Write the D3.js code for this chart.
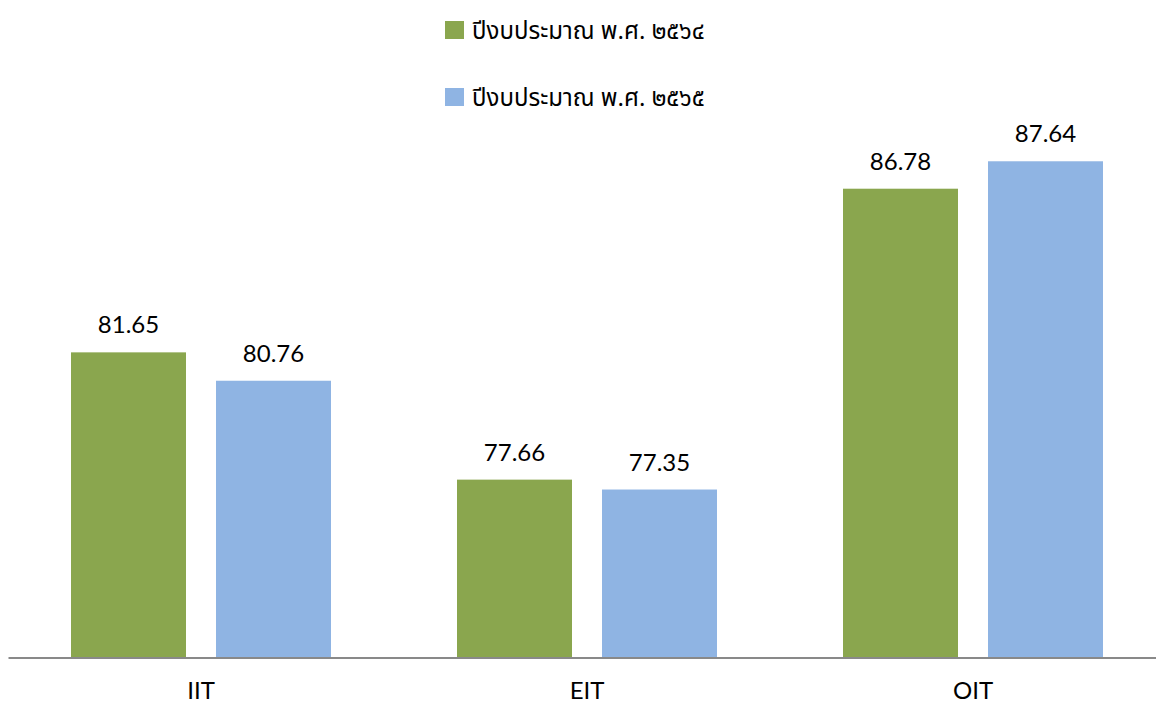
<!DOCTYPE html>
<html>
<head>
<meta charset="utf-8">
<script src="https://cdn.jsdelivr.net/npm/d3@7"></script>
<style>
  body { margin: 0; background: #fff; }
  text { font-family: Lato, "Open Sans", sans-serif; fill: #000; }
  .legend text { font-family: "Noto Sans Thai", "Noto Sans", "DejaVu Sans", sans-serif; }
</style>
</head>
<body>
<div id="chart"></div>
<script>
// budget scores by institute, two fiscal years
var categories = ["IIT", "EIT", "OIT"];
var seriesNames = ["ปีงบประมาณ พ.ศ. ๒๕๖๔", "ปีงบประมาณ พ.ศ. ๒๕๖๕"];
var values2564 = [81.65, 77.66, 86.78];
var values2565 = [80.76, 77.35, 87.64];
var colors = ["#8aa64e", "#8fb4e3"];

var width = 1156, height = 705;
var baseY = 657;

var svg = d3.select("#chart").append("svg")
    .attr("width", width)
    .attr("height", height);

var x = d3.scaleBand()
    .domain(categories)
    .range([8, 1166]);

// two bars per group, 115px wide with a 30px gap
var xSub = d3.scaleBand()
    .domain([0, 1])
    .range([63, 323])
    .paddingInner(30 / 145)
    .paddingOuter(0);

var y = d3.scaleLinear()
    .domain([72.1, 90])
    .range([baseY, baseY - 17.9 * 31.9]);

var data = [];
categories.forEach(function(c, i) {
    data.push({cat: c, s: 0, v: values2564[i]});
    data.push({cat: c, s: 1, v: values2565[i]});
});

svg.selectAll("rect.bar")
    .data(data)
    .enter()
    .append("rect")
    .attr("class", "bar")
    .attr("x", function(d) { return x(d.cat) + xSub(d.s); })
    .attr("width", xSub.bandwidth())
    .attr("y", function(d) { return y(d.v); })
    .attr("height", function(d) { return baseY - y(d.v); })
    .attr("fill", function(d) { return colors[d.s]; });

svg.selectAll("text.val")
    .data(data)
    .enter()
    .append("text")
    .attr("class", "val")
    .attr("x", function(d) { return x(d.cat) + xSub(d.s) + xSub.bandwidth() / 2; })
    .attr("y", function(d) { return y(d.v) - 19; })
    .attr("text-anchor", "middle")
    .style("font-size", "24px")
    .text(function(d) { return d.v.toFixed(2); });

// x axis
var xAxis = d3.axisBottom(x).tickSize(0).tickPadding(24);
var gx = svg.append("g")
    .attr("transform", "translate(0," + (baseY + 0.5) + ")")
    .call(xAxis);
gx.select(".domain").attr("stroke", "#898989").attr("stroke-width", 2);
gx.selectAll(".tick text")
    .style("font-size", "24px")
    .style("font-family", "Lato, 'Open Sans', sans-serif")
    .attr("fill", "#000");

// legend
var legend = svg.append("g").attr("class", "legend");
var item = legend.selectAll("g")
    .data(seriesNames)
    .enter()
    .append("g")
    .attr("transform", function(d, i) { return "translate(445," + (21 + i * 67) + ")"; });

item.append("rect")
    .attr("width", 19)
    .attr("height", 18)
    .attr("fill", function(d, i) { return colors[i]; });

item.append("text")
    .attr("x", 27)
    .attr("y", 18)
    .style("font-size", "24px")
    .text(function(d) { return d; });
</script>
</body>
</html>
